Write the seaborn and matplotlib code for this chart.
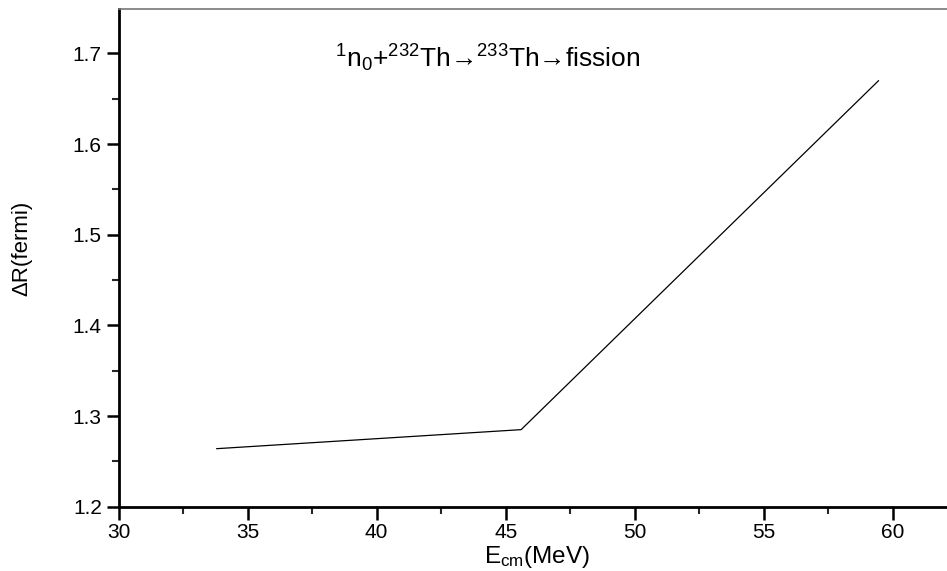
import matplotlib
matplotlib.use("Agg")
import matplotlib.pyplot as plt
import seaborn as sns
import pandas as pd
from matplotlib.ticker import MultipleLocator

energy = [33.8, 45.6, 59.45]
delta_r = [1.264, 1.285, 1.670]

sns.set_style("ticks")
plt.rcParams['font.family'] = ['Liberation Sans', 'DejaVu Sans']
plt.rcParams['text.color'] = 'black'
plt.rcParams['mathtext.fontset'] = 'custom'
plt.rcParams['mathtext.rm'] = 'Liberation Sans'
plt.rcParams['mathtext.it'] = 'Liberation Sans'
plt.rcParams['mathtext.default'] = 'regular'

df = pd.DataFrame({"E": energy, "dR": delta_r})

fig = plt.figure(figsize=(9.47, 5.71), dpi=100)
ax = fig.add_axes([118.5 / 947, 64.3 / 571, (947 - 118.5) / 947, (506.7 - 9) / 571])
sns.lineplot(data=df, x="E", y="dR", ax=ax, color="black", linewidth=0.9)

ax.set_xlim(30, 62.1)
ax.set_ylim(1.2, 1.749)
ax.xaxis.set_major_locator(MultipleLocator(5))
ax.xaxis.set_minor_locator(MultipleLocator(2.5))
ax.yaxis.set_major_locator(MultipleLocator(0.1))
ax.yaxis.set_minor_locator(MultipleLocator(0.05))
ax.tick_params(axis='both', which='major', direction='out', length=9, width=1.8,
               labelsize=15, colors='black', labelcolor='black', pad=3)
ax.tick_params(axis='both', which='minor', direction='out', length=5, width=1.5)
ax.set_yticklabels([f"{v:.1f}" for v in ax.get_yticks()])

for s in ['left', 'bottom']:
    ax.spines[s].set_linewidth(2.0)
    ax.spines[s].set_color('black')
ax.spines['top'].set_linewidth(1.2)
ax.spines['top'].set_color('#777777')
ax.spines['right'].set_visible(False)

ax.set_xlabel("")
ax.set_ylabel("")
fig.text(537 / 947, 1 - 557 / 571, r"E$_{cm}$(MeV)", ha='center', va='center', fontsize=17.5, color='black')
fig.text(22 / 947, 1 - 248 / 571, "ΔR(fermi)", ha='center', va='center', rotation=90, fontsize=16, color='black')
fig.text(335 / 947, 1 - 58 / 571,
         r"$^{1}$n$_{0}$+$^{232}$Th" + "\u2192" + r"$^{233}$Th" + "\u2192" + "fission",
         ha='left', va='center', fontsize=19, color='black')

fig.savefig("out.png", dpi=100)
